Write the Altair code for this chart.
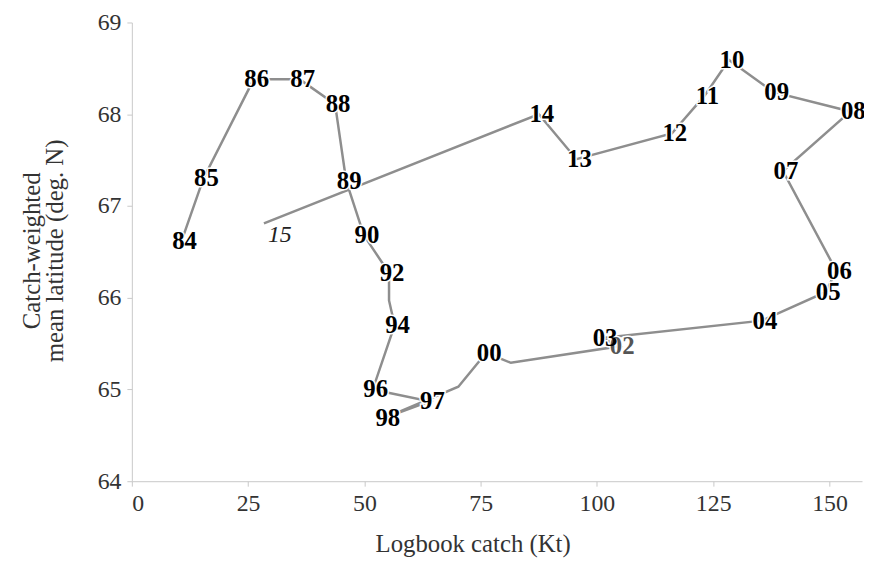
import altair as alt
import pandas as pd

years = ["84", "85", "86", "87", "88", "89", "90", "92", "93", "94", "96", "97", "98", "99",
         "00", "01", "02", "03", "04", "05", "06", "07", "08", "09", "10", "11", "12", "13", "14", "15"]
catch_kt = [10.7, 15.4, 26.2, 36.1, 43.7, 46.1, 49.9, 55.3, 55.3, 56.5, 51.8, 64.0, 54.4, 70.2,
            76.2, 81.5, 104.8, 101.1, 135.5, 149.1, 151.5, 140.0, 154.5, 138.0, 128.4, 123.1,
            116.1, 95.6, 87.5, 28.4]
lat = [66.62, 67.30, 68.38, 68.38, 68.11, 67.27, 66.68, 66.27, 65.97, 65.70, 65.00, 64.87, 64.69, 65.03,
       65.40, 65.29, 65.47, 65.56, 65.75, 66.06, 66.29, 67.38, 68.03, 68.24, 68.59, 68.20,
       67.79, 67.51, 68.00, 66.81]
unlabeled = ["93", "99", "01"]
x_ticks = [0, 25, 50, 75, 100, 125, 150]
y_ticks = [64, 65, 66, 67, 68, 69]

df = pd.DataFrame({
    "year": years,
    "order": list(range(len(years))),
    "catch": catch_kt,
    "lat": lat,
    "label": ["" if y in unlabeled else y for y in years],
})

FONT = "Liberation Serif"

x = alt.X("catch:Q",
          scale=alt.Scale(domain=[0, 157], nice=False, zero=False),
          axis=alt.Axis(values=x_ticks, title="Logbook catch (Kt)", grid=False,
                        titleX=344, titleY=63, titleBaseline="middle"))
y = alt.Y("lat:Q",
          scale=alt.Scale(domain=[64, 69], nice=False, zero=False),
          axis=alt.Axis(values=y_ticks, title=["Catch-weighted", "mean latitude (deg. N)"],
                        grid=False, titleX=-101, titleY=230, titleAngle=270,
                        titleAlign="center", titleBaseline="middle", titleLineHeight=23))

base = alt.Chart(df)

line = base.mark_line(color="#8e8e8e", strokeWidth=2.5).encode(x=x, y=y, order="order:Q")

lab = base.transform_filter("datum.label != '' && datum.year != '15'")

halo = lab.mark_text(font=FONT, fontSize=25, fontWeight="bold", fill="white",
                     stroke="white", strokeWidth=3, baseline="middle", dx=3).encode(
    x=x, y=y, text="label:N")

txt = lab.mark_text(font=FONT, fontSize=25, fontWeight="bold", baseline="middle", dx=3).encode(
    x=x, y=y, text="label:N",
    color=alt.condition(alt.datum.year == "02", alt.value("#555555"), alt.value("black")))

txt15 = base.transform_filter("datum.year == '15'").mark_text(
    font=FONT, fontSize=24, fontStyle="italic", color="#222222", dx=16, dy=12,
    baseline="middle").encode(x=x, y=y, text="label:N")

chart = alt.layer(line, halo, txt, txt15).properties(
    width=737, height=463,
    autosize=alt.AutoSizeParams(type="none"),
    padding={"left": 125, "top": 12, "right": 2, "bottom": 85},
).configure_view(stroke=None).configure_axis(
    domainColor="#c8c8c8", tickColor="#c8c8c8", tickSize=5,
    labelFont=FONT, labelFontSize=24, labelColor="#333333",
    titleFont=FONT, titleFontSize=25, titleColor="#333333", titleFontWeight="normal",
).configure_axisY(labelPadding=6).configure_axisX(labelPadding=6)

chart.save("out.html", embed_options={"renderer": "svg", "actions": False})
